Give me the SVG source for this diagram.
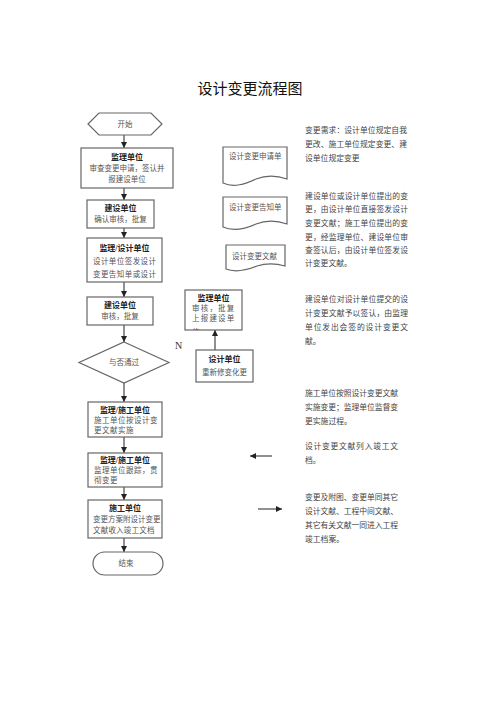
<svg xmlns="http://www.w3.org/2000/svg" width="500" height="707" viewBox="0 0 500 707">
<style>
.bx{fill:#fff;stroke:#666;stroke-width:1.2}
.f{font-family:"Liberation Serif","Noto Sans CJK SC",serif}
.tt{font-size:8px;font-weight:bold;fill:#222;text-anchor:middle}
.bd{font-size:7.5px;fill:#555}
.c{text-anchor:middle}
.rt{font-size:7.8px;fill:#444}
.cn{stroke:#222;stroke-width:1;fill:none}
</style>
<defs>
<marker id="ah" markerUnits="userSpaceOnUse" markerWidth="6" markerHeight="6" refX="6" refY="3" orient="auto">
<path d="M0,0 L6,3 L0,6 z" fill="#222"/>
</marker>
<clipPath id="m1clip"><rect x="185" y="290" width="57" height="40"/></clipPath>
</defs>
<rect width="500" height="707" fill="#fff"/>
<text class="f" x="250" y="94" font-size="15" fill="#111" text-anchor="middle">设计变更流程图</text>

<g id="connectors">
<line class="cn" x1="124" y1="135" x2="124" y2="148" marker-end="url(#ah)"/>
<line class="cn" x1="124" y1="188" x2="124" y2="200" marker-end="url(#ah)"/>
<line class="cn" x1="124" y1="228" x2="124" y2="238" marker-end="url(#ah)"/>
<line class="cn" x1="124" y1="282" x2="124" y2="297" marker-end="url(#ah)"/>
<line class="cn" x1="124" y1="325" x2="124" y2="342" marker-end="url(#ah)"/>
<line class="cn" x1="124" y1="383" x2="124" y2="402" marker-end="url(#ah)"/>
<line class="cn" x1="124" y1="437" x2="124" y2="453" marker-end="url(#ah)"/>
<line class="cn" x1="124" y1="487" x2="124" y2="500" marker-end="url(#ah)"/>
<line class="cn" x1="124" y1="538" x2="124" y2="552" marker-end="url(#ah)"/>
<line class="cn" x1="215" y1="350" x2="215" y2="330" marker-end="url(#ah)"/>
<line class="cn" x1="272" y1="456" x2="250" y2="456" marker-end="url(#ah)"/>
<line class="cn" x1="258" y1="509" x2="282" y2="509" marker-end="url(#ah)"/>
</g>

<g id="start">
<polygon class="bx" points="88,124 99,113 151,113 162,124 151,135 99,135"/>
<text class="f bd c" x="125" y="127">开始</text>
</g>
<g id="box1">
<rect class="bx" x="81" y="148" width="92" height="40"/>
<text class="f tt" x="127" y="160">监理单位</text>
<text class="f bd c" x="127" y="171">审查变更申请，签认并</text>
<text class="f bd c" x="127" y="182">报建设单位</text>
</g>
<g id="box2">
<rect class="bx" x="87" y="200" width="67" height="28"/>
<text class="f tt" x="120.5" y="211">建设单位</text>
<text class="f bd c" x="120.5" y="222">确认审核，批复</text>
</g>
<g id="box3">
<rect class="bx" x="87" y="238" width="75" height="44"/>
<text class="f tt" x="124.5" y="251">监理/设计单位</text>
<text class="f bd" x="93" y="264" textLength="63" lengthAdjust="spacing">设计单位签发设计</text>
<text class="f bd" x="93" y="277" textLength="63" lengthAdjust="spacing">变更告知单或设计</text>
</g>
<g id="box4">
<rect class="bx" x="87" y="297" width="66" height="28"/>
<text class="f tt" x="120" y="308">建设单位</text>
<text class="f bd c" x="120" y="319">审核，批复</text>
</g>
<g id="decision">
<polygon class="bx" points="124,342 169,362.5 124,383 79,362.5"/>
<text class="f bd c" x="124" y="365">与否通过</text>
</g>
<text class="f" x="175" y="349" font-size="10" fill="#333">N</text>
<g id="box5">
<rect class="bx" x="88" y="402" width="74" height="35"/>
<text class="f tt" x="125" y="413">监理/施工单位</text>
<text class="f bd" x="94" y="423" letter-spacing="0.5">施工单位按设计变</text>
<text class="f bd" x="94" y="433" letter-spacing="0.5">更文献实施</text>
</g>
<g id="box6">
<rect class="bx" x="88" y="453" width="74" height="34"/>
<text class="f tt" x="125" y="463">监理/施工单位</text>
<text class="f bd" x="94" y="473" letter-spacing="0.5">监理单位跟踪，贯</text>
<text class="f bd" x="94" y="483" letter-spacing="0.5">彻变更</text>
</g>
<g id="box7">
<rect class="bx" x="88" y="500" width="74" height="38"/>
<text class="f tt" x="125" y="511">施工单位</text>
<text class="f bd" x="93" y="522">变更方案附设计变更</text>
<text class="f bd" x="93" y="533" letter-spacing="0.2">文献收入竣工文档</text>
</g>
<g id="end">
<rect class="bx" x="93" y="552" width="70" height="23" rx="11.5"/>
<text class="f bd c" x="126" y="566">结束</text>
</g>

<g id="doc1">
<path class="bx" d="M223,147 H287 V179 C276,175 266,175 256,179 C245,184 234,188 223,183 Z"/>
<text class="f bd" x="229" y="159">设计变更申请单</text>
</g>
<g id="doc2">
<path class="bx" d="M223,197 H287 V224 C276,220 266,220 256,224 C245,229 234,232 223,227 Z"/>
<text class="f bd" x="229" y="210">设计变更告知单</text>
</g>
<g id="doc3">
<path class="bx" d="M226,245 H285 V266 C275,263 266,263 257,266 C247,270 236,273 226,269 Z"/>
<text class="f bd" x="232" y="259">设计变更文献</text>
</g>

<g id="m1">
<rect class="bx" x="185" y="290" width="57" height="40"/>
<text class="f tt" x="213.5" y="301">监理单位</text>
<g clip-path="url(#m1clip)">
<text class="f bd" x="192" y="311" letter-spacing="1.2">审核，批复</text>
<text class="f bd" x="192" y="321" letter-spacing="1.2">上报建设单</text>
<text class="f bd" x="192" y="334.5" letter-spacing="1.2">位</text>
</g>
</g>
<g id="m2">
<rect class="bx" x="196" y="350" width="57" height="32"/>
<text class="f tt" x="224.5" y="362">设计单位</text>
<text class="f bd c" x="224.5" y="375">重新修变化更</text>
</g>

<g id="notes" class="f rt">
<text x="305" y="133" textLength="102" lengthAdjust="spacing">变更需求：设计单位规定自我</text>
<text x="305" y="147" textLength="102" lengthAdjust="spacing">更改、施工单位规定变更、建</text>
<text x="305" y="161">设单位规定变更</text>

<text x="305" y="199" textLength="103" lengthAdjust="spacing">建设单位或设计单位提出的变</text>
<text x="305" y="212" textLength="103" lengthAdjust="spacing">更，由设计单位直接签发设计</text>
<text x="305" y="226" textLength="103" lengthAdjust="spacing">变更文献；施工单位提出的变</text>
<text x="305" y="240" textLength="103" lengthAdjust="spacing">更，经监理单位、建设单位审</text>
<text x="305" y="253" textLength="103" lengthAdjust="spacing">查签认后，由设计单位签发设</text>
<text x="305" y="266">计变更文献。</text>

<text x="305" y="302" textLength="103" lengthAdjust="spacing">建设单位对设计单位提交的设</text>
<text x="305" y="316" textLength="103" lengthAdjust="spacing">计变更文献予以签认，由监理</text>
<text x="305" y="330" textLength="103" lengthAdjust="spacing">单位发出会签的设计变更文</text>
<text x="305" y="344">献。</text>

<text x="305" y="396" textLength="93" lengthAdjust="spacing">施工单位按照设计变更文献</text>
<text x="305" y="410" textLength="93" lengthAdjust="spacing">实施变更；监理单位监督变</text>
<text x="305" y="424">更实施过程。</text>

<text x="305" y="449" textLength="93" lengthAdjust="spacing">设计变更文献列入竣工文</text>
<text x="305" y="463">档。</text>

<text x="305" y="500" textLength="93" lengthAdjust="spacing">变更及附图、变更单同其它</text>
<text x="305" y="514" textLength="93" lengthAdjust="spacing">设计文献、工程中间文献、</text>
<text x="305" y="528" textLength="93" lengthAdjust="spacing">其它有关文献一同进入工程</text>
<text x="305" y="542">竣工档案。</text>
</g>
</svg>
